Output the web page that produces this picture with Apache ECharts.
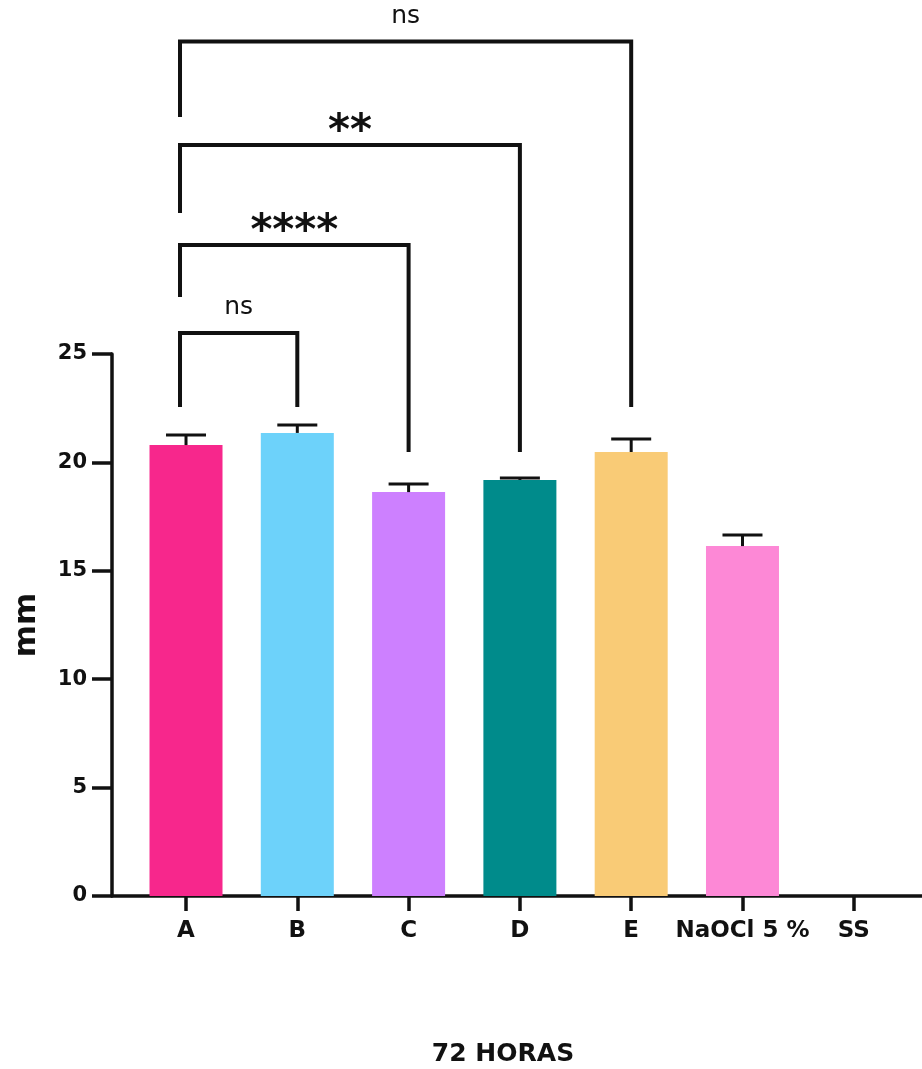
<!DOCTYPE html>
<html>
<head>
<meta charset="utf-8">
<script src="https://cdn.jsdelivr.net/npm/echarts@6/dist/echarts.min.js"></script>
<style>
html,body{margin:0;padding:0;background:#fff;}
#c{width:922px;height:1069px;}
</style>
</head>
<body>
<div id="c"></div>
<script>
// ---- data ----
const categories = ['A', 'B', 'C', 'D', 'E', 'NaOCl 5 %', 'SS'];
const means = [20.80, 21.36, 18.63, 19.19, 20.48, 16.14, 0];
const errTops = [21.26, 21.72, 19.00, 19.28, 21.08, 16.65, 0];
const barColors = ['#F7278C', '#6DD2FA', '#CD80FF', '#008B8B', '#F9CB76', '#FD88D6', '#FFFFFF'];
const yTicks = [0, 5, 10, 15, 20, 25];
// brackets: [leftIndex, rightIndex, barLevel, leftLegEnd, rightLegEnd]
const brackets = [
  [0, 1, 25.97, 22.55, 22.55],
  [0, 2, 30.03, 27.63, 20.48],
  [0, 3, 34.64, 31.50, 20.48],
  [0, 4, 39.41, 35.93, 22.55]
];
const bracketLabels = ['ns', '****', '**', 'ns'];

const FONT = 'DejaVu Sans';
const INK = '#111';

const chart = echarts.init(document.getElementById('c'), null, {renderer: 'canvas'});

const barData = means.map((v, i) => ({value: [i, v], itemStyle: {color: barColors[i]}}));
const errData = means.map((v, i) => [i, v, errTops[i]]).filter(d => d[1] > 0);

chart.setOption({
  animation: false,
  backgroundColor: '#fff',
  grid: {left: 112, right: 0, top: 354, bottom: 173, containLabel: false, outerBoundsMode: 'none'},
  xAxis: {
    type: 'value',
    min: -0.665,
    max: 6.613,
    name: '72 HORAS',
    nameLocation: 'middle',
    nameGap: 146,
    nameTextStyle: {fontFamily: FONT, fontWeight: 'bold', fontSize: 25, color: INK, padding: [0, 28, 0, 0]},
    axisLine: {show: true, onZero: false, lineStyle: {color: INK, width: 3.5}},
    axisTick: {show: true, customValues: [0, 1, 2, 3, 4, 5, 6], length: 15, lineStyle: {color: INK, width: 3.5}},
    axisLabel: {
      customValues: [0, 1, 2, 3, 4, 5, 6],
      formatter: v => categories[Math.round(v)],
      fontFamily: FONT, fontWeight: 'bold', fontSize: 23, color: INK, margin: 24
    },
    splitLine: {show: false}
  },
  yAxis: {
    type: 'value',
    min: 0,
    max: 25,
    interval: 5,
    name: 'mm',
    nameLocation: 'middle',
    nameGap: 70,
    nameRotate: 90,
    nameTextStyle: {fontFamily: FONT, fontWeight: 'bold', fontSize: 31, color: INK},
    axisLine: {show: true, onZero: false, lineStyle: {color: INK, width: 3.5}},
    axisTick: {show: true, length: 20, lineStyle: {color: INK, width: 3.5}},
    axisLabel: {fontFamily: FONT, fontWeight: 'bold', fontSize: 21, color: INK, margin: 25,
      formatter: v => yTicks.includes(v) ? String(v) : ''},
    splitLine: {show: false}
  },
  series: [
    {
      type: 'bar',
      data: barData,
      barWidth: 73,
      z: 2
    },
    {
      type: 'custom',
      data: errData,
      clip: false,
      z: 3,
      encode: {x: 0, y: [1, 2]},
      renderItem: function (params, api) {
        const x = api.value(0);
        const p0 = api.coord([x, api.value(1)]);
        const p1 = api.coord([x, api.value(2)]);
        const capHalf = 20;
        return {
          type: 'group',
          children: [
            {type: 'line', shape: {x1: p0[0], y1: p0[1], x2: p1[0], y2: p1[1]}, style: {stroke: INK, lineWidth: 3}},
            {type: 'line', shape: {x1: p1[0] - capHalf, y1: p1[1], x2: p1[0] + capHalf, y2: p1[1]}, style: {stroke: INK, lineWidth: 3}}
          ]
        };
      }
    },
    {
      type: 'custom',
      data: brackets,
      clip: false,
      z: 4,
      encode: {x: [0, 1], y: [2, 3, 4]},
      renderItem: function (params, api) {
        const li = api.value(0), ri = api.value(1);
        const lvl = api.value(2), le = api.value(3), re = api.value(4);
        const pl = api.coord([li, lvl]);
        const pr = api.coord([ri, lvl]);
        const plEnd = api.coord([li, le]);
        const prEnd = api.coord([ri, re]);
        const lx = pl[0] - 6;
        const label = bracketLabels[params.dataIndex];
        const isStar = label.indexOf('*') >= 0;
        return {
          type: 'group',
          children: [
            {type: 'polyline', shape: {points: [[lx, plEnd[1]], [lx, pl[1]], [pr[0], pr[1]], [prEnd[0], prEnd[1]]]},
              style: {stroke: INK, lineWidth: 4, fill: null, lineJoin: 'miter'}},
            {type: 'text', x: (lx + pr[0]) / 2, y: pl[1] - (isStar ? 12 : 25),
              style: {text: label, fontFamily: FONT, fontSize: isStar ? 42 : 25,
                fontWeight: isStar ? 'bold' : 'normal', fill: INK, align: 'center', verticalAlign: 'middle'}}
          ]
        };
      }
    }
  ]
});
</script>
</body>
</html>
